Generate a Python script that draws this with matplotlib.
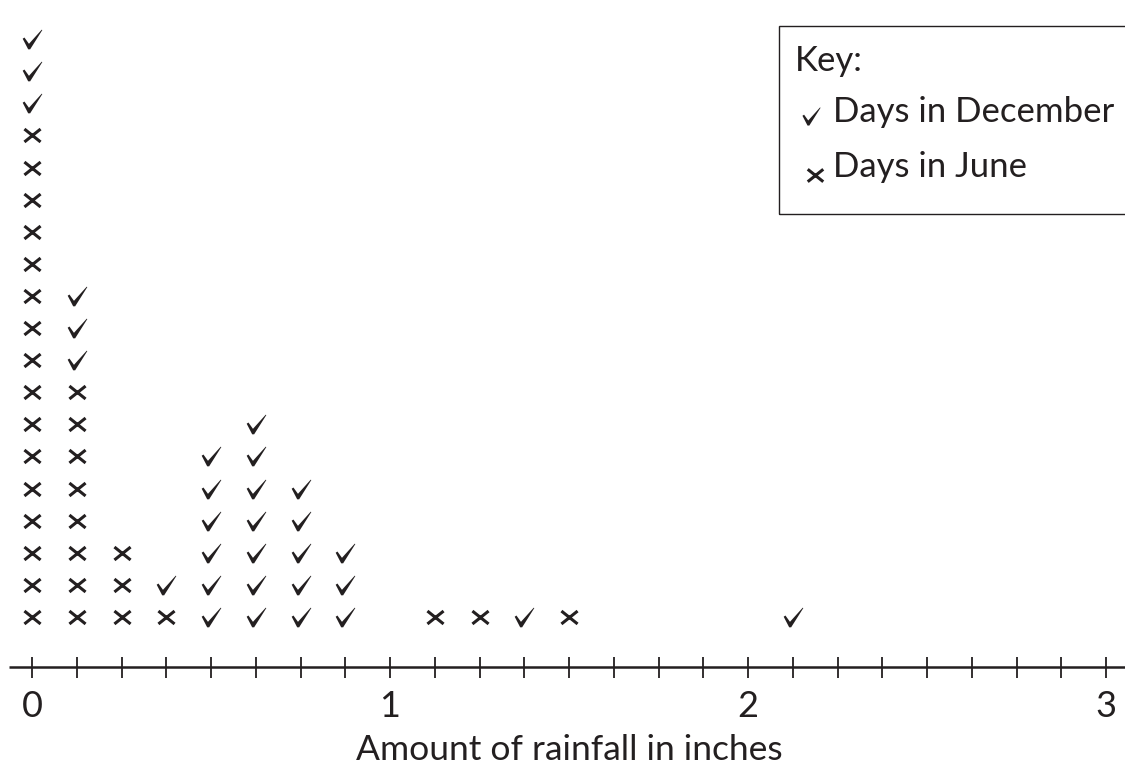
import numpy as np
import matplotlib.pyplot as plt
from matplotlib.path import Path
from matplotlib.patches import Rectangle

# rainfall amounts (inches) and how many days had each amount
dec_x = [0, 0.125, 0.375, 0.5, 0.625, 0.75, 0.875, 1.375, 2.125]
dec_n = [3, 3, 1, 6, 7, 5, 3, 1, 1]
jun_x = [0, 0.125, 0.25, 0.375, 1.125, 1.25, 1.5]
jun_n = [16, 8, 3, 1, 1, 1, 1]

tick_labels = ["0", "1", "2", "3"]
ink = "#231f20"

plt.rcParams['font.family'] = ['Lato', 'DejaVu Sans']

# check mark drawn as a filled shape
check = Path([(-0.50, 0.04), (-0.41, 0.10), (-0.18, -0.22), (0.47, 0.50),
              (0.50, 0.48), (-0.12, -0.50), (-0.22, -0.50), (-0.50, 0.04)],
             [Path.MOVETO] + [Path.LINETO] * 6 + [Path.CLOSEPOLY])
cross = Path([(-0.5, -0.4), (0.5, 0.4), (-0.5, 0.4), (0.5, -0.4)],
             [Path.MOVETO, Path.LINETO, Path.MOVETO, Path.LINETO])

# stack June first, December on top
jx, jy = [], []
for x, n in zip(jun_x, jun_n):
    jx += [x] * n
    jy += list(range(n))
dx, dy = [], []
for x, n in zip(dec_x, dec_n):
    base = jun_n[jun_x.index(x)] if x in jun_x else 0
    dx += [x] * n
    dy += list(range(base, base + n))

fig = plt.figure(figsize=(11.25, 7.66), dpi=100)
ax = fig.add_axes([0, 0, 1, 1])
ax.set_xlim(-32 / 358, 1093 / 358)
ax.set_ylim(-149 / 32.1, 617 / 32.1)
ax.axis("off")

ax.scatter(jx, jy, marker=cross, s=135, color=ink, linewidths=2.2)
ax.scatter(dx, dy, marker=check, s=200, color=ink, linewidths=0)

# number line
ax.plot([-0.064, 3.1], [-1.558, -1.558], color=ink, lw=1.8, solid_capstyle="butt")
ticks = np.arange(0, 3.01, 0.125)
ax.vlines(ticks, -1.90, -1.25, color=ink, lw=1.3)
for i, lab in enumerate(tick_labels):
    ax.text(i, -2.80, lab, ha="center", va="center", fontsize=26, color=ink)
ax.text(1.5, -4.15, "Amount of rainfall in inches", ha="center", va="center",
        fontsize=25.5, color=ink)

# key box
ax.add_patch(Rectangle((779 / 1125, 1 - 214 / 766), 0.5, 188 / 766,
                       transform=ax.transAxes, fill=False, ec=ink, lw=1))
ax.text(795 / 1125, 1 - 61 / 766, "Key:", transform=ax.transAxes,
        ha="left", va="center", fontsize=25, color=ink)
ax.text(833 / 1125, 1 - 112 / 766, "Days in December", transform=ax.transAxes,
        ha="left", va="center", fontsize=25, color=ink)
ax.text(833 / 1125, 1 - 167 / 766, "Days in June", transform=ax.transAxes,
        ha="left", va="center", fontsize=25, color=ink)
ax.scatter([811 / 1125], [1 - 116 / 766], marker=check, s=170, color=ink,
           linewidths=0, transform=ax.transAxes)
ax.scatter([815 / 1125], [1 - 175 / 766], marker=cross, s=125, color=ink,
           linewidths=2.2, transform=ax.transAxes)

fig.savefig("out.png", dpi=100)
